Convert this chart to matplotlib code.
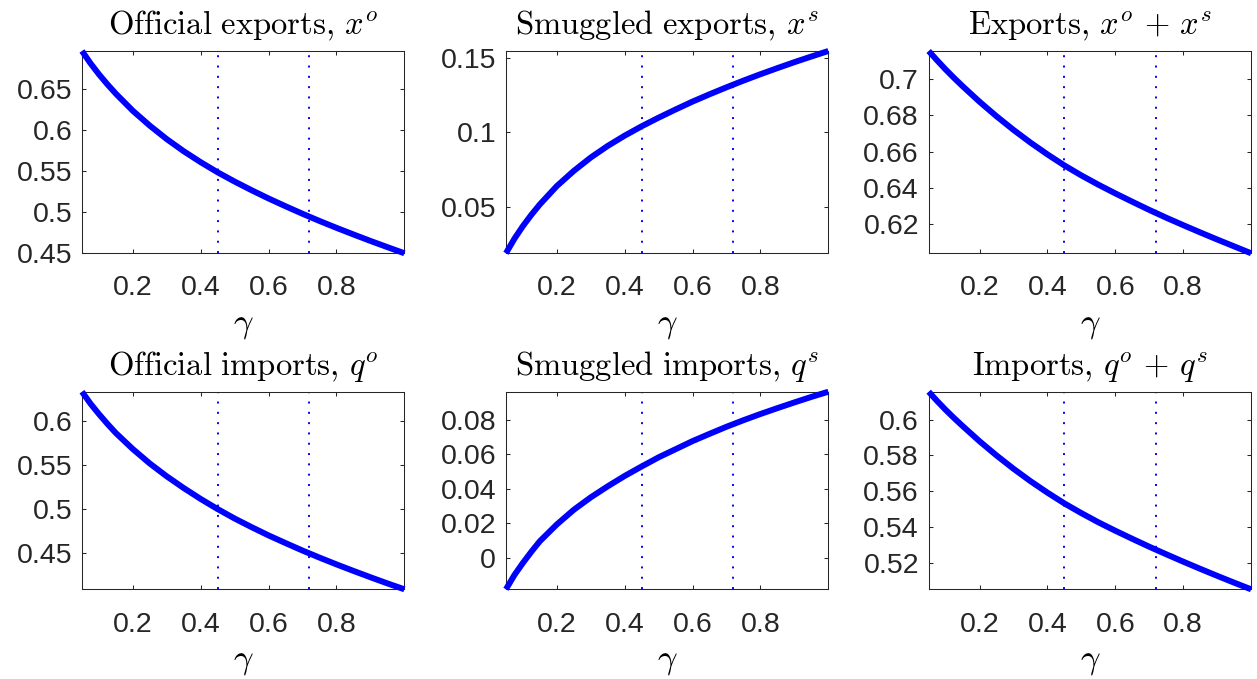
"""
Official vs smuggled trade flows as functions of gamma (2x3 panel figure).
"""
import matplotlib
matplotlib.use('Agg')
import matplotlib.pyplot as plt
import matplotlib.ticker as ticker

plt.rcParams.update({
    "font.family": "sans-serif",
    "font.sans-serif": ["Liberation Sans", "DejaVu Sans"],
    "font.size": 20.5,
    "mathtext.fontset": "cm",
    "axes.linewidth": 0.75,
    "axes.edgecolor": "#262626",
    "xtick.color": "#262626",
    "ytick.color": "#262626",
    "xtick.direction": "in",
    "ytick.direction": "in",
    "xtick.top": True,
    "ytick.right": True,
    "xtick.major.size": 3,
    "ytick.major.size": 3,
    "xtick.major.width": 0.75,
    "ytick.major.width": 0.75,
})

C_LINE = '#0000FF'

# ===== Data =====
gamma = [0.05, 0.075, 0.10, 0.125, 0.15, 0.20, 0.25, 0.30, 0.35, 0.40, 0.45, 0.50,
         0.55, 0.60, 0.65, 0.70, 0.75, 0.80, 0.85, 0.90, 0.95, 1.00]

x_off = [0.6968, 0.6818, 0.6683, 0.6560, 0.6445, 0.6236, 0.6054, 0.5889, 0.5741, 0.5607,
         0.5483, 0.5370, 0.5264, 0.5163, 0.5068, 0.4976, 0.4888, 0.4804, 0.4723, 0.4644,
         0.4568, 0.4493]
x_smg = [0.0187, 0.0285, 0.0370, 0.0446, 0.0516, 0.0639, 0.0741, 0.0831, 0.0909, 0.0978,
         0.1041, 0.1099, 0.1154, 0.1207, 0.1256, 0.1303, 0.1348, 0.1391, 0.1432, 0.1472,
         0.1510, 0.1547]
x_tot = [0.7155, 0.7103, 0.7053, 0.7006, 0.6961, 0.6875, 0.6795, 0.6720, 0.6650, 0.6585,
         0.6524, 0.6469, 0.6418, 0.6370, 0.6324, 0.6279, 0.6236, 0.6195, 0.6155, 0.6116,
         0.6078, 0.6040]

q_off = [0.6338, 0.6203, 0.6084, 0.5973, 0.5868, 0.5686, 0.5522, 0.5376, 0.5243, 0.5119,
         0.5004, 0.4897, 0.4799, 0.4705, 0.4618, 0.4533, 0.4453, 0.4376, 0.4302, 0.4230,
         0.4160, 0.4093]
q_smg = [-0.0183, -0.0100, -0.0030, 0.0035, 0.0096, 0.0193, 0.0278, 0.0350, 0.0414, 0.0474,
         0.0529, 0.0582, 0.0629, 0.0676, 0.0718, 0.0759, 0.0797, 0.0833, 0.0867, 0.0900,
         0.0932, 0.0962]
q_tot = [0.6155, 0.6103, 0.6054, 0.6008, 0.5964, 0.5879, 0.5800, 0.5726, 0.5657, 0.5593,
         0.5533, 0.5479, 0.5428, 0.5381, 0.5336, 0.5292, 0.5250, 0.5209, 0.5169, 0.5130,
         0.5092, 0.5055]

# vertical reference lines
gamma_marks = [0.45, 0.72]

x_ticks = [0.2, 0.4, 0.6, 0.8]

titles = [r'$\mathrm{Official\ exports,}\,x^o$',
          r'$\mathrm{Smuggled\ exports,}\,x^s$',
          r'$\mathrm{Exports,}\,x^o\,+\,x^s$',
          r'$\mathrm{Official\ imports,}\,q^o$',
          r'$\mathrm{Smuggled\ imports,}\,q^s$',
          r'$\mathrm{Imports,}\,q^o\,+\,q^s$']

y_ticks = [[0.45, 0.5, 0.55, 0.6, 0.65],
           [0.05, 0.1, 0.15],
           [0.62, 0.64, 0.66, 0.68, 0.7],
           [0.45, 0.5, 0.55, 0.6],
           [0, 0.02, 0.04, 0.06, 0.08],
           [0.52, 0.54, 0.56, 0.58, 0.6]]

series = [x_off, x_smg, x_tot, q_off, q_smg, q_tot]

# axes rectangles in figure fractions
COL_L = [0.0652, 0.4025, 0.7388]
COL_W = 0.2565
ROW_B = [0.6270, 0.1321]
ROW_H = [0.2979, 0.2910]

fig = plt.figure(figsize=(12.57, 6.79), dpi=100)

for k, y in enumerate(series):
    r, c = divmod(k, 3)
    ax = fig.add_axes([COL_L[c], ROW_B[r], COL_W, ROW_H[r]])
    for g in gamma_marks:
        ax.axvline(g, color=C_LINE, linewidth=1.4, linestyle=(0, (1, 4.3)))
    ax.plot(gamma, y, color=C_LINE, linewidth=4.3, solid_capstyle='butt',
            solid_joinstyle='round', clip_on=False, zorder=3)

    ax.set_xlim(gamma[0], gamma[-1])
    ax.set_ylim(min(y), max(y))
    ax.set_xticks(x_ticks)
    ax.set_yticks(y_ticks[k])
    ax.xaxis.set_major_formatter(ticker.FormatStrFormatter('%g'))
    ax.yaxis.set_major_formatter(ticker.FormatStrFormatter('%g'))
    ax.tick_params(axis='x', pad=16)
    ax.tick_params(axis='y', pad=7)

    ax.set_title(titles[k], fontsize=23.5, color='black', pad=12)
    ax.set_xlabel(r'$\gamma$', fontsize=25, color='black', labelpad=5)

fig.savefig('out.png', dpi=100)
